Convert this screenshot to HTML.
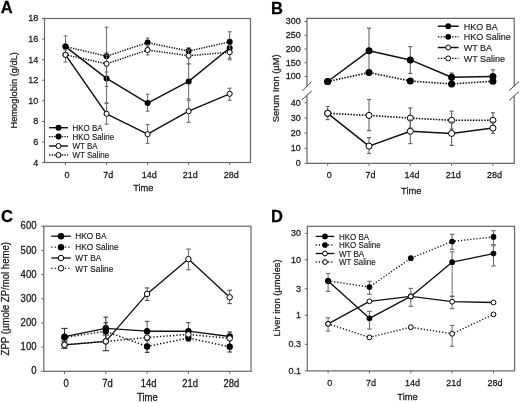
<!DOCTYPE html>
<html><head><meta charset="utf-8"><style>
html,body{margin:0;padding:0;background:#fff;}
body{width:520px;height:403px;overflow:hidden;}
svg{display:block;font-family:"Liberation Sans",sans-serif;filter:grayscale(1);}
</style></head><body>
<svg width="520" height="403" viewBox="0 0 520 403">
<rect width="520" height="403" fill="#fff"/>
<rect x="44.50" y="18.50" width="206.00" height="144.00" fill="none" stroke="#666666" stroke-width="1.2"/>
<line x1="42.00" y1="162.56" x2="44.50" y2="162.56" stroke="#666666" stroke-width="1" stroke-linecap="butt"/>
<text transform="translate(38.30 165.53) scale(0.9346 1)" font-size="9.63" text-anchor="end" font-weight="normal" fill="#1a1a1a" stroke="#1a1a1a" stroke-width="0.27">4</text>
<line x1="42.00" y1="141.98" x2="44.50" y2="141.98" stroke="#666666" stroke-width="1" stroke-linecap="butt"/>
<text transform="translate(38.30 144.95) scale(0.9346 1)" font-size="9.63" text-anchor="end" font-weight="normal" fill="#1a1a1a" stroke="#1a1a1a" stroke-width="0.27">6</text>
<line x1="42.00" y1="121.40" x2="44.50" y2="121.40" stroke="#666666" stroke-width="1" stroke-linecap="butt"/>
<text transform="translate(38.30 124.37) scale(0.9346 1)" font-size="9.63" text-anchor="end" font-weight="normal" fill="#1a1a1a" stroke="#1a1a1a" stroke-width="0.27">8</text>
<line x1="42.00" y1="100.82" x2="44.50" y2="100.82" stroke="#666666" stroke-width="1" stroke-linecap="butt"/>
<text transform="translate(38.30 103.79) scale(0.9346 1)" font-size="9.63" text-anchor="end" font-weight="normal" fill="#1a1a1a" stroke="#1a1a1a" stroke-width="0.27">10</text>
<line x1="42.00" y1="80.24" x2="44.50" y2="80.24" stroke="#666666" stroke-width="1" stroke-linecap="butt"/>
<text transform="translate(38.30 83.21) scale(0.9346 1)" font-size="9.63" text-anchor="end" font-weight="normal" fill="#1a1a1a" stroke="#1a1a1a" stroke-width="0.27">12</text>
<line x1="42.00" y1="59.66" x2="44.50" y2="59.66" stroke="#666666" stroke-width="1" stroke-linecap="butt"/>
<text transform="translate(38.30 62.63) scale(0.9346 1)" font-size="9.63" text-anchor="end" font-weight="normal" fill="#1a1a1a" stroke="#1a1a1a" stroke-width="0.27">14</text>
<line x1="42.00" y1="39.08" x2="44.50" y2="39.08" stroke="#666666" stroke-width="1" stroke-linecap="butt"/>
<text transform="translate(38.30 42.05) scale(0.9346 1)" font-size="9.63" text-anchor="end" font-weight="normal" fill="#1a1a1a" stroke="#1a1a1a" stroke-width="0.27">16</text>
<line x1="42.00" y1="18.50" x2="44.50" y2="18.50" stroke="#666666" stroke-width="1" stroke-linecap="butt"/>
<text transform="translate(38.30 21.47) scale(0.9346 1)" font-size="9.63" text-anchor="end" font-weight="normal" fill="#1a1a1a" stroke="#1a1a1a" stroke-width="0.27">18</text>
<line x1="65.50" y1="162.50" x2="65.50" y2="165.00" stroke="#666666" stroke-width="1" stroke-linecap="butt"/>
<text transform="translate(67.10 177.50) scale(0.9346 1)" font-size="9.63" text-anchor="middle" font-weight="normal" fill="#1a1a1a" stroke="#1a1a1a" stroke-width="0.27">0</text>
<line x1="106.55" y1="162.50" x2="106.55" y2="165.00" stroke="#666666" stroke-width="1" stroke-linecap="butt"/>
<text transform="translate(108.15 177.50) scale(0.9346 1)" font-size="9.63" text-anchor="middle" font-weight="normal" fill="#1a1a1a" stroke="#1a1a1a" stroke-width="0.27">7d</text>
<line x1="147.60" y1="162.50" x2="147.60" y2="165.00" stroke="#666666" stroke-width="1" stroke-linecap="butt"/>
<text transform="translate(149.20 177.50) scale(0.9346 1)" font-size="9.63" text-anchor="middle" font-weight="normal" fill="#1a1a1a" stroke="#1a1a1a" stroke-width="0.27">14d</text>
<line x1="188.65" y1="162.50" x2="188.65" y2="165.00" stroke="#666666" stroke-width="1" stroke-linecap="butt"/>
<text transform="translate(190.25 177.50) scale(0.9346 1)" font-size="9.63" text-anchor="middle" font-weight="normal" fill="#1a1a1a" stroke="#1a1a1a" stroke-width="0.27">21d</text>
<line x1="229.70" y1="162.50" x2="229.70" y2="165.00" stroke="#666666" stroke-width="1" stroke-linecap="butt"/>
<text transform="translate(231.30 177.50) scale(0.9346 1)" font-size="9.63" text-anchor="middle" font-weight="normal" fill="#1a1a1a" stroke="#1a1a1a" stroke-width="0.27">28d</text>
<text transform="translate(143.30 190.60) scale(0.9346 1)" font-size="9.95" text-anchor="middle" font-weight="normal" fill="#1a1a1a" stroke="#1a1a1a" stroke-width="0.27">Time</text>
<text transform="translate(16.80 90.30) rotate(-90) scale(0.9346 1)" font-size="9.95" text-anchor="middle" font-weight="normal" fill="#1a1a1a" stroke="#1a1a1a" stroke-width="0.27">Hemoglobin (g/dL)</text>
<text transform="translate(0.80 13.10)" font-size="16.50" text-anchor="start" font-weight="bold" fill="#000" stroke="#000" stroke-width="0.27">A</text>
<polyline points="65.50,54.80 106.55,63.80 147.60,50.00 188.65,55.70 229.70,52.20" fill="none" stroke="#111" stroke-width="1.5" stroke-dasharray="1.3 1.25" stroke-linejoin="round"/>
<polyline points="65.50,46.60 106.55,56.20 147.60,42.60 188.65,51.10 229.70,41.80" fill="none" stroke="#111" stroke-width="1.5" stroke-dasharray="1.3 1.25" stroke-linejoin="round"/>
<polyline points="65.50,54.80 106.55,113.80 147.60,134.20 188.65,111.20 229.70,93.80" fill="none" stroke="#111" stroke-width="1.45" stroke-linejoin="round"/>
<polyline points="65.50,46.60 106.55,78.40 147.60,103.10 188.65,81.40 229.70,48.00" fill="none" stroke="#111" stroke-width="1.45" stroke-linejoin="round"/>
<line x1="106.55" y1="53.00" x2="106.55" y2="103.50" stroke="#6a6a6a" stroke-width="1.0" stroke-linecap="butt"/>
<line x1="104.65" y1="53.00" x2="108.45" y2="53.00" stroke="#6a6a6a" stroke-width="1.1" stroke-linecap="butt"/>
<line x1="104.65" y1="103.50" x2="108.45" y2="103.50" stroke="#6a6a6a" stroke-width="1.1" stroke-linecap="butt"/>
<line x1="147.60" y1="94.20" x2="147.60" y2="111.20" stroke="#6a6a6a" stroke-width="1.0" stroke-linecap="butt"/>
<line x1="145.70" y1="94.20" x2="149.50" y2="94.20" stroke="#6a6a6a" stroke-width="1.1" stroke-linecap="butt"/>
<line x1="145.70" y1="111.20" x2="149.50" y2="111.20" stroke="#6a6a6a" stroke-width="1.1" stroke-linecap="butt"/>
<line x1="188.65" y1="64.00" x2="188.65" y2="99.00" stroke="#6a6a6a" stroke-width="1.0" stroke-linecap="butt"/>
<line x1="186.75" y1="64.00" x2="190.55" y2="64.00" stroke="#6a6a6a" stroke-width="1.1" stroke-linecap="butt"/>
<line x1="186.75" y1="99.00" x2="190.55" y2="99.00" stroke="#6a6a6a" stroke-width="1.1" stroke-linecap="butt"/>
<line x1="229.70" y1="44.00" x2="229.70" y2="58.30" stroke="#6a6a6a" stroke-width="1.0" stroke-linecap="butt"/>
<line x1="227.80" y1="44.00" x2="231.60" y2="44.00" stroke="#6a6a6a" stroke-width="1.1" stroke-linecap="butt"/>
<line x1="227.80" y1="58.30" x2="231.60" y2="58.30" stroke="#6a6a6a" stroke-width="1.1" stroke-linecap="butt"/>
<circle cx="65.50" cy="46.60" r="3.00" fill="#000"/>
<circle cx="106.55" cy="78.40" r="3.00" fill="#000"/>
<circle cx="147.60" cy="103.10" r="3.00" fill="#000"/>
<circle cx="188.65" cy="81.40" r="3.00" fill="#000"/>
<circle cx="229.70" cy="48.00" r="3.00" fill="#000"/>
<line x1="65.50" y1="35.90" x2="65.50" y2="57.00" stroke="#6a6a6a" stroke-width="1.0" stroke-linecap="butt"/>
<line x1="63.60" y1="35.90" x2="67.40" y2="35.90" stroke="#6a6a6a" stroke-width="1.1" stroke-linecap="butt"/>
<line x1="63.60" y1="57.00" x2="67.40" y2="57.00" stroke="#6a6a6a" stroke-width="1.1" stroke-linecap="butt"/>
<line x1="106.55" y1="27.20" x2="106.55" y2="86.50" stroke="#6a6a6a" stroke-width="1.0" stroke-linecap="butt"/>
<line x1="104.65" y1="27.20" x2="108.45" y2="27.20" stroke="#6a6a6a" stroke-width="1.1" stroke-linecap="butt"/>
<line x1="104.65" y1="86.50" x2="108.45" y2="86.50" stroke="#6a6a6a" stroke-width="1.1" stroke-linecap="butt"/>
<line x1="147.60" y1="38.00" x2="147.60" y2="47.00" stroke="#6a6a6a" stroke-width="1.0" stroke-linecap="butt"/>
<line x1="145.70" y1="38.00" x2="149.50" y2="38.00" stroke="#6a6a6a" stroke-width="1.1" stroke-linecap="butt"/>
<line x1="145.70" y1="47.00" x2="149.50" y2="47.00" stroke="#6a6a6a" stroke-width="1.1" stroke-linecap="butt"/>
<line x1="188.65" y1="47.70" x2="188.65" y2="55.00" stroke="#6a6a6a" stroke-width="1.0" stroke-linecap="butt"/>
<line x1="186.75" y1="47.70" x2="190.55" y2="47.70" stroke="#6a6a6a" stroke-width="1.1" stroke-linecap="butt"/>
<line x1="186.75" y1="55.00" x2="190.55" y2="55.00" stroke="#6a6a6a" stroke-width="1.1" stroke-linecap="butt"/>
<line x1="229.70" y1="31.80" x2="229.70" y2="52.00" stroke="#6a6a6a" stroke-width="1.0" stroke-linecap="butt"/>
<line x1="227.80" y1="31.80" x2="231.60" y2="31.80" stroke="#6a6a6a" stroke-width="1.1" stroke-linecap="butt"/>
<line x1="227.80" y1="52.00" x2="231.60" y2="52.00" stroke="#6a6a6a" stroke-width="1.1" stroke-linecap="butt"/>
<circle cx="65.50" cy="46.60" r="3.00" fill="#000"/>
<circle cx="106.55" cy="56.20" r="3.00" fill="#000"/>
<circle cx="147.60" cy="42.60" r="3.00" fill="#000"/>
<circle cx="188.65" cy="51.10" r="3.00" fill="#000"/>
<circle cx="229.70" cy="41.80" r="3.00" fill="#000"/>
<line x1="65.50" y1="50.00" x2="65.50" y2="62.00" stroke="#6a6a6a" stroke-width="1.0" stroke-linecap="butt"/>
<line x1="63.60" y1="50.00" x2="67.40" y2="50.00" stroke="#6a6a6a" stroke-width="1.1" stroke-linecap="butt"/>
<line x1="63.60" y1="62.00" x2="67.40" y2="62.00" stroke="#6a6a6a" stroke-width="1.1" stroke-linecap="butt"/>
<line x1="106.55" y1="55.00" x2="106.55" y2="72.00" stroke="#6a6a6a" stroke-width="1.0" stroke-linecap="butt"/>
<line x1="104.65" y1="55.00" x2="108.45" y2="55.00" stroke="#6a6a6a" stroke-width="1.1" stroke-linecap="butt"/>
<line x1="104.65" y1="72.00" x2="108.45" y2="72.00" stroke="#6a6a6a" stroke-width="1.1" stroke-linecap="butt"/>
<line x1="147.60" y1="45.00" x2="147.60" y2="54.90" stroke="#6a6a6a" stroke-width="1.0" stroke-linecap="butt"/>
<line x1="145.70" y1="45.00" x2="149.50" y2="45.00" stroke="#6a6a6a" stroke-width="1.1" stroke-linecap="butt"/>
<line x1="145.70" y1="54.90" x2="149.50" y2="54.90" stroke="#6a6a6a" stroke-width="1.1" stroke-linecap="butt"/>
<line x1="188.65" y1="50.00" x2="188.65" y2="63.80" stroke="#6a6a6a" stroke-width="1.0" stroke-linecap="butt"/>
<line x1="186.75" y1="50.00" x2="190.55" y2="50.00" stroke="#6a6a6a" stroke-width="1.1" stroke-linecap="butt"/>
<line x1="186.75" y1="63.80" x2="190.55" y2="63.80" stroke="#6a6a6a" stroke-width="1.1" stroke-linecap="butt"/>
<line x1="229.70" y1="45.00" x2="229.70" y2="59.80" stroke="#6a6a6a" stroke-width="1.0" stroke-linecap="butt"/>
<line x1="227.80" y1="45.00" x2="231.60" y2="45.00" stroke="#6a6a6a" stroke-width="1.1" stroke-linecap="butt"/>
<line x1="227.80" y1="59.80" x2="231.60" y2="59.80" stroke="#6a6a6a" stroke-width="1.1" stroke-linecap="butt"/>
<circle cx="65.50" cy="54.80" r="2.55" fill="#fff" stroke="#000" stroke-width="1.0"/>
<circle cx="106.55" cy="63.80" r="2.55" fill="#fff" stroke="#000" stroke-width="1.0"/>
<circle cx="147.60" cy="50.00" r="2.55" fill="#fff" stroke="#000" stroke-width="1.0"/>
<circle cx="188.65" cy="55.70" r="2.55" fill="#fff" stroke="#000" stroke-width="1.0"/>
<circle cx="229.70" cy="52.20" r="2.55" fill="#fff" stroke="#000" stroke-width="1.0"/>
<line x1="106.55" y1="102.80" x2="106.55" y2="124.20" stroke="#6a6a6a" stroke-width="1.0" stroke-linecap="butt"/>
<line x1="104.65" y1="102.80" x2="108.45" y2="102.80" stroke="#6a6a6a" stroke-width="1.1" stroke-linecap="butt"/>
<line x1="104.65" y1="124.20" x2="108.45" y2="124.20" stroke="#6a6a6a" stroke-width="1.1" stroke-linecap="butt"/>
<line x1="147.60" y1="124.60" x2="147.60" y2="143.40" stroke="#6a6a6a" stroke-width="1.0" stroke-linecap="butt"/>
<line x1="145.70" y1="124.60" x2="149.50" y2="124.60" stroke="#6a6a6a" stroke-width="1.1" stroke-linecap="butt"/>
<line x1="145.70" y1="143.40" x2="149.50" y2="143.40" stroke="#6a6a6a" stroke-width="1.1" stroke-linecap="butt"/>
<line x1="188.65" y1="100.30" x2="188.65" y2="122.30" stroke="#6a6a6a" stroke-width="1.0" stroke-linecap="butt"/>
<line x1="186.75" y1="100.30" x2="190.55" y2="100.30" stroke="#6a6a6a" stroke-width="1.1" stroke-linecap="butt"/>
<line x1="186.75" y1="122.30" x2="190.55" y2="122.30" stroke="#6a6a6a" stroke-width="1.1" stroke-linecap="butt"/>
<line x1="229.70" y1="88.20" x2="229.70" y2="100.30" stroke="#6a6a6a" stroke-width="1.0" stroke-linecap="butt"/>
<line x1="227.80" y1="88.20" x2="231.60" y2="88.20" stroke="#6a6a6a" stroke-width="1.1" stroke-linecap="butt"/>
<line x1="227.80" y1="100.30" x2="231.60" y2="100.30" stroke="#6a6a6a" stroke-width="1.1" stroke-linecap="butt"/>
<circle cx="65.50" cy="54.80" r="2.55" fill="#fff" stroke="#000" stroke-width="1.0"/>
<circle cx="106.55" cy="113.80" r="2.55" fill="#fff" stroke="#000" stroke-width="1.0"/>
<circle cx="147.60" cy="134.20" r="2.55" fill="#fff" stroke="#000" stroke-width="1.0"/>
<circle cx="188.65" cy="111.20" r="2.55" fill="#fff" stroke="#000" stroke-width="1.0"/>
<circle cx="229.70" cy="93.80" r="2.55" fill="#fff" stroke="#000" stroke-width="1.0"/>
<line x1="49.10" y1="127.70" x2="68.00" y2="127.70" stroke="#111" stroke-width="1.45" stroke-linecap="butt"/>
<circle cx="58.50" cy="127.70" r="3.00" fill="#000"/>
<text transform="translate(72.50 130.87) scale(0.909 1)" font-size="8.80" fill="#1a1a1a" stroke="#1a1a1a" stroke-width="0.15">HKO BA</text>
<line x1="49.10" y1="136.60" x2="68.00" y2="136.60" stroke="#111" stroke-width="1.3" stroke-dasharray="1.3 1.25" stroke-linecap="butt"/>
<circle cx="58.50" cy="136.60" r="3.00" fill="#000"/>
<text transform="translate(72.50 139.77) scale(0.909 1)" font-size="8.80" fill="#1a1a1a" stroke="#1a1a1a" stroke-width="0.15">HKO Saline</text>
<line x1="49.10" y1="146.00" x2="68.00" y2="146.00" stroke="#111" stroke-width="1.45" stroke-linecap="butt"/>
<circle cx="58.50" cy="146.00" r="2.55" fill="#fff" stroke="#000" stroke-width="1.0"/>
<text transform="translate(72.50 149.17) scale(0.909 1)" font-size="8.80" fill="#1a1a1a" stroke="#1a1a1a" stroke-width="0.15">WT BA</text>
<line x1="49.10" y1="155.00" x2="68.00" y2="155.00" stroke="#111" stroke-width="1.3" stroke-dasharray="1.3 1.25" stroke-linecap="butt"/>
<circle cx="58.50" cy="155.00" r="2.55" fill="#fff" stroke="#000" stroke-width="1.0"/>
<text transform="translate(72.50 158.17) scale(0.909 1)" font-size="8.80" fill="#1a1a1a" stroke="#1a1a1a" stroke-width="0.15">WT Saline</text>
<line x1="307.00" y1="18.40" x2="514.20" y2="18.40" stroke="#666666" stroke-width="1.2" stroke-linecap="butt"/>
<line x1="307.00" y1="163.30" x2="514.20" y2="163.30" stroke="#666666" stroke-width="1.2" stroke-linecap="butt"/>
<line x1="307.00" y1="17.80" x2="307.00" y2="86.30" stroke="#666666" stroke-width="1.2" stroke-linecap="butt"/>
<line x1="307.00" y1="95.60" x2="307.00" y2="163.90" stroke="#666666" stroke-width="1.2" stroke-linecap="butt"/>
<line x1="514.20" y1="17.80" x2="514.20" y2="86.60" stroke="#666666" stroke-width="1.2" stroke-linecap="butt"/>
<line x1="514.20" y1="96.20" x2="514.20" y2="163.90" stroke="#666666" stroke-width="1.2" stroke-linecap="butt"/>
<line x1="302.40" y1="90.80" x2="311.60" y2="81.70" stroke="#444" stroke-width="1" stroke-linecap="butt"/>
<line x1="302.10" y1="99.80" x2="311.80" y2="90.80" stroke="#444" stroke-width="1" stroke-linecap="butt"/>
<line x1="509.20" y1="90.40" x2="519.10" y2="81.70" stroke="#444" stroke-width="1" stroke-linecap="butt"/>
<line x1="509.20" y1="100.40" x2="518.80" y2="91.70" stroke="#444" stroke-width="1" stroke-linecap="butt"/>
<line x1="304.50" y1="76.50" x2="307.00" y2="76.50" stroke="#666666" stroke-width="1" stroke-linecap="butt"/>
<text transform="translate(300.80 79.47) scale(0.9346 1)" font-size="9.63" text-anchor="end" font-weight="normal" fill="#1a1a1a" stroke="#1a1a1a" stroke-width="0.27">100</text>
<line x1="304.50" y1="62.75" x2="307.00" y2="62.75" stroke="#666666" stroke-width="1" stroke-linecap="butt"/>
<text transform="translate(300.80 65.72) scale(0.9346 1)" font-size="9.63" text-anchor="end" font-weight="normal" fill="#1a1a1a" stroke="#1a1a1a" stroke-width="0.27">150</text>
<line x1="304.50" y1="49.00" x2="307.00" y2="49.00" stroke="#666666" stroke-width="1" stroke-linecap="butt"/>
<text transform="translate(300.80 51.97) scale(0.9346 1)" font-size="9.63" text-anchor="end" font-weight="normal" fill="#1a1a1a" stroke="#1a1a1a" stroke-width="0.27">200</text>
<line x1="304.50" y1="35.25" x2="307.00" y2="35.25" stroke="#666666" stroke-width="1" stroke-linecap="butt"/>
<text transform="translate(300.80 38.22) scale(0.9346 1)" font-size="9.63" text-anchor="end" font-weight="normal" fill="#1a1a1a" stroke="#1a1a1a" stroke-width="0.27">250</text>
<line x1="304.50" y1="21.50" x2="307.00" y2="21.50" stroke="#666666" stroke-width="1" stroke-linecap="butt"/>
<text transform="translate(300.80 24.47) scale(0.9346 1)" font-size="9.63" text-anchor="end" font-weight="normal" fill="#1a1a1a" stroke="#1a1a1a" stroke-width="0.27">300</text>
<line x1="304.50" y1="163.30" x2="307.00" y2="163.30" stroke="#666666" stroke-width="1" stroke-linecap="butt"/>
<text transform="translate(300.80 166.27) scale(0.9346 1)" font-size="9.63" text-anchor="end" font-weight="normal" fill="#1a1a1a" stroke="#1a1a1a" stroke-width="0.27">0</text>
<line x1="304.50" y1="148.18" x2="307.00" y2="148.18" stroke="#666666" stroke-width="1" stroke-linecap="butt"/>
<text transform="translate(300.80 151.15) scale(0.9346 1)" font-size="9.63" text-anchor="end" font-weight="normal" fill="#1a1a1a" stroke="#1a1a1a" stroke-width="0.27">10</text>
<line x1="304.50" y1="133.06" x2="307.00" y2="133.06" stroke="#666666" stroke-width="1" stroke-linecap="butt"/>
<text transform="translate(300.80 136.03) scale(0.9346 1)" font-size="9.63" text-anchor="end" font-weight="normal" fill="#1a1a1a" stroke="#1a1a1a" stroke-width="0.27">20</text>
<line x1="304.50" y1="117.94" x2="307.00" y2="117.94" stroke="#666666" stroke-width="1" stroke-linecap="butt"/>
<text transform="translate(300.80 120.91) scale(0.9346 1)" font-size="9.63" text-anchor="end" font-weight="normal" fill="#1a1a1a" stroke="#1a1a1a" stroke-width="0.27">30</text>
<line x1="304.50" y1="102.82" x2="307.00" y2="102.82" stroke="#666666" stroke-width="1" stroke-linecap="butt"/>
<text transform="translate(300.80 105.79) scale(0.9346 1)" font-size="9.63" text-anchor="end" font-weight="normal" fill="#1a1a1a" stroke="#1a1a1a" stroke-width="0.27">40</text>
<line x1="327.70" y1="163.30" x2="327.70" y2="165.80" stroke="#666666" stroke-width="1" stroke-linecap="butt"/>
<text transform="translate(329.30 178.30) scale(0.9346 1)" font-size="9.63" text-anchor="middle" font-weight="normal" fill="#1a1a1a" stroke="#1a1a1a" stroke-width="0.27">0</text>
<line x1="369.00" y1="163.30" x2="369.00" y2="165.80" stroke="#666666" stroke-width="1" stroke-linecap="butt"/>
<text transform="translate(370.60 178.30) scale(0.9346 1)" font-size="9.63" text-anchor="middle" font-weight="normal" fill="#1a1a1a" stroke="#1a1a1a" stroke-width="0.27">7d</text>
<line x1="410.30" y1="163.30" x2="410.30" y2="165.80" stroke="#666666" stroke-width="1" stroke-linecap="butt"/>
<text transform="translate(411.90 178.30) scale(0.9346 1)" font-size="9.63" text-anchor="middle" font-weight="normal" fill="#1a1a1a" stroke="#1a1a1a" stroke-width="0.27">14d</text>
<line x1="451.60" y1="163.30" x2="451.60" y2="165.80" stroke="#666666" stroke-width="1" stroke-linecap="butt"/>
<text transform="translate(453.20 178.30) scale(0.9346 1)" font-size="9.63" text-anchor="middle" font-weight="normal" fill="#1a1a1a" stroke="#1a1a1a" stroke-width="0.27">21d</text>
<line x1="492.90" y1="163.30" x2="492.90" y2="165.80" stroke="#666666" stroke-width="1" stroke-linecap="butt"/>
<text transform="translate(494.50 178.30) scale(0.9346 1)" font-size="9.63" text-anchor="middle" font-weight="normal" fill="#1a1a1a" stroke="#1a1a1a" stroke-width="0.27">28d</text>
<text transform="translate(411.20 194.30) scale(0.9346 1)" font-size="9.95" text-anchor="middle" font-weight="normal" fill="#1a1a1a" stroke="#1a1a1a" stroke-width="0.27">Time</text>
<text transform="translate(279.00 88.40) rotate(-90) scale(0.9346 1)" font-size="9.95" text-anchor="middle" font-weight="normal" fill="#1a1a1a" stroke="#1a1a1a" stroke-width="0.27">Serum Iron (µM)</text>
<text transform="translate(271.00 13.50)" font-size="16.50" text-anchor="start" font-weight="bold" fill="#000" stroke="#000" stroke-width="0.27">B</text>
<polyline points="327.70,113.30 369.00,115.40 410.30,118.10 451.60,120.30 492.90,120.30" fill="none" stroke="#111" stroke-width="1.6" stroke-dasharray="1.5 1.35" stroke-linejoin="round"/>
<polyline points="327.70,81.50 369.00,72.60 410.30,81.00 451.60,84.00 492.90,81.20" fill="none" stroke="#111" stroke-width="1.6" stroke-dasharray="1.5 1.35" stroke-linejoin="round"/>
<polyline points="327.70,113.30 369.00,146.10 410.30,131.30 451.60,133.40 492.90,128.10" fill="none" stroke="#111" stroke-width="1.5" stroke-linejoin="round"/>
<polyline points="327.70,81.50 369.00,50.80 410.30,59.90 451.60,77.20 492.90,76.50" fill="none" stroke="#111" stroke-width="1.5" stroke-linejoin="round"/>
<line x1="369.00" y1="28.20" x2="369.00" y2="73.00" stroke="#666" stroke-width="1.1" stroke-linecap="butt"/>
<line x1="367.00" y1="28.20" x2="371.00" y2="28.20" stroke="#666" stroke-width="1.2000000000000002" stroke-linecap="butt"/>
<line x1="367.00" y1="73.00" x2="371.00" y2="73.00" stroke="#666" stroke-width="1.2000000000000002" stroke-linecap="butt"/>
<line x1="410.30" y1="46.60" x2="410.30" y2="73.40" stroke="#666" stroke-width="1.1" stroke-linecap="butt"/>
<line x1="408.30" y1="46.60" x2="412.30" y2="46.60" stroke="#666" stroke-width="1.2000000000000002" stroke-linecap="butt"/>
<line x1="408.30" y1="73.40" x2="412.30" y2="73.40" stroke="#666" stroke-width="1.2000000000000002" stroke-linecap="butt"/>
<line x1="451.60" y1="73.00" x2="451.60" y2="81.00" stroke="#666" stroke-width="1.1" stroke-linecap="butt"/>
<line x1="449.60" y1="73.00" x2="453.60" y2="73.00" stroke="#666" stroke-width="1.2000000000000002" stroke-linecap="butt"/>
<line x1="449.60" y1="81.00" x2="453.60" y2="81.00" stroke="#666" stroke-width="1.2000000000000002" stroke-linecap="butt"/>
<line x1="492.90" y1="69.80" x2="492.90" y2="82.00" stroke="#666" stroke-width="1.1" stroke-linecap="butt"/>
<line x1="490.90" y1="69.80" x2="494.90" y2="69.80" stroke="#666" stroke-width="1.2000000000000002" stroke-linecap="butt"/>
<line x1="490.90" y1="82.00" x2="494.90" y2="82.00" stroke="#666" stroke-width="1.2000000000000002" stroke-linecap="butt"/>
<circle cx="327.70" cy="81.50" r="3.50" fill="#000"/>
<circle cx="369.00" cy="50.80" r="3.50" fill="#000"/>
<circle cx="410.30" cy="59.90" r="3.50" fill="#000"/>
<circle cx="451.60" cy="77.20" r="3.50" fill="#000"/>
<circle cx="492.90" cy="76.50" r="3.50" fill="#000"/>
<circle cx="327.70" cy="81.50" r="3.50" fill="#000"/>
<circle cx="369.00" cy="72.60" r="3.50" fill="#000"/>
<circle cx="410.30" cy="81.00" r="3.50" fill="#000"/>
<circle cx="451.60" cy="84.00" r="3.50" fill="#000"/>
<circle cx="492.90" cy="81.20" r="3.50" fill="#000"/>
<line x1="327.70" y1="106.50" x2="327.70" y2="119.60" stroke="#666" stroke-width="1.1" stroke-linecap="butt"/>
<line x1="325.70" y1="106.50" x2="329.70" y2="106.50" stroke="#666" stroke-width="1.2000000000000002" stroke-linecap="butt"/>
<line x1="325.70" y1="119.60" x2="329.70" y2="119.60" stroke="#666" stroke-width="1.2000000000000002" stroke-linecap="butt"/>
<line x1="369.00" y1="99.50" x2="369.00" y2="130.60" stroke="#666" stroke-width="1.1" stroke-linecap="butt"/>
<line x1="367.00" y1="99.50" x2="371.00" y2="99.50" stroke="#666" stroke-width="1.2000000000000002" stroke-linecap="butt"/>
<line x1="367.00" y1="130.60" x2="371.00" y2="130.60" stroke="#666" stroke-width="1.2000000000000002" stroke-linecap="butt"/>
<line x1="410.30" y1="108.00" x2="410.30" y2="128.00" stroke="#666" stroke-width="1.1" stroke-linecap="butt"/>
<line x1="408.30" y1="108.00" x2="412.30" y2="108.00" stroke="#666" stroke-width="1.2000000000000002" stroke-linecap="butt"/>
<line x1="408.30" y1="128.00" x2="412.30" y2="128.00" stroke="#666" stroke-width="1.2000000000000002" stroke-linecap="butt"/>
<line x1="451.60" y1="111.20" x2="451.60" y2="129.00" stroke="#666" stroke-width="1.1" stroke-linecap="butt"/>
<line x1="449.60" y1="111.20" x2="453.60" y2="111.20" stroke="#666" stroke-width="1.2000000000000002" stroke-linecap="butt"/>
<line x1="449.60" y1="129.00" x2="453.60" y2="129.00" stroke="#666" stroke-width="1.2000000000000002" stroke-linecap="butt"/>
<line x1="492.90" y1="112.80" x2="492.90" y2="126.00" stroke="#666" stroke-width="1.1" stroke-linecap="butt"/>
<line x1="490.90" y1="112.80" x2="494.90" y2="112.80" stroke="#666" stroke-width="1.2000000000000002" stroke-linecap="butt"/>
<line x1="490.90" y1="126.00" x2="494.90" y2="126.00" stroke="#666" stroke-width="1.2000000000000002" stroke-linecap="butt"/>
<circle cx="327.70" cy="113.30" r="3.05" fill="#fff" stroke="#000" stroke-width="1.0"/>
<circle cx="369.00" cy="115.40" r="3.05" fill="#fff" stroke="#000" stroke-width="1.0"/>
<circle cx="410.30" cy="118.10" r="3.05" fill="#fff" stroke="#000" stroke-width="1.0"/>
<circle cx="451.60" cy="120.30" r="3.05" fill="#fff" stroke="#000" stroke-width="1.0"/>
<circle cx="492.90" cy="120.30" r="3.05" fill="#fff" stroke="#000" stroke-width="1.0"/>
<line x1="369.00" y1="137.60" x2="369.00" y2="153.50" stroke="#666" stroke-width="1.1" stroke-linecap="butt"/>
<line x1="367.00" y1="137.60" x2="371.00" y2="137.60" stroke="#666" stroke-width="1.2000000000000002" stroke-linecap="butt"/>
<line x1="367.00" y1="153.50" x2="371.00" y2="153.50" stroke="#666" stroke-width="1.2000000000000002" stroke-linecap="butt"/>
<line x1="410.30" y1="120.00" x2="410.30" y2="143.60" stroke="#666" stroke-width="1.1" stroke-linecap="butt"/>
<line x1="408.30" y1="120.00" x2="412.30" y2="120.00" stroke="#666" stroke-width="1.2000000000000002" stroke-linecap="butt"/>
<line x1="408.30" y1="143.60" x2="412.30" y2="143.60" stroke="#666" stroke-width="1.2000000000000002" stroke-linecap="butt"/>
<line x1="451.60" y1="122.00" x2="451.60" y2="145.40" stroke="#666" stroke-width="1.1" stroke-linecap="butt"/>
<line x1="449.60" y1="122.00" x2="453.60" y2="122.00" stroke="#666" stroke-width="1.2000000000000002" stroke-linecap="butt"/>
<line x1="449.60" y1="145.40" x2="453.60" y2="145.40" stroke="#666" stroke-width="1.2000000000000002" stroke-linecap="butt"/>
<line x1="492.90" y1="122.00" x2="492.90" y2="133.40" stroke="#666" stroke-width="1.1" stroke-linecap="butt"/>
<line x1="490.90" y1="122.00" x2="494.90" y2="122.00" stroke="#666" stroke-width="1.2000000000000002" stroke-linecap="butt"/>
<line x1="490.90" y1="133.40" x2="494.90" y2="133.40" stroke="#666" stroke-width="1.2000000000000002" stroke-linecap="butt"/>
<circle cx="327.70" cy="113.30" r="3.05" fill="#fff" stroke="#000" stroke-width="1.0"/>
<circle cx="369.00" cy="146.10" r="3.05" fill="#fff" stroke="#000" stroke-width="1.0"/>
<circle cx="410.30" cy="131.30" r="3.05" fill="#fff" stroke="#000" stroke-width="1.0"/>
<circle cx="451.60" cy="133.40" r="3.05" fill="#fff" stroke="#000" stroke-width="1.0"/>
<circle cx="492.90" cy="128.10" r="3.05" fill="#fff" stroke="#000" stroke-width="1.0"/>
<line x1="437.80" y1="26.20" x2="458.60" y2="26.20" stroke="#111" stroke-width="1.5" stroke-linecap="butt"/>
<circle cx="448.20" cy="26.20" r="2.90" fill="#000"/>
<text transform="translate(463.70 29.76) scale(0.909 1)" font-size="9.90" fill="#1a1a1a" stroke="#1a1a1a" stroke-width="0.15">HKO BA</text>
<line x1="437.80" y1="36.80" x2="458.60" y2="36.80" stroke="#111" stroke-width="1.3" stroke-dasharray="1.5 1.35" stroke-linecap="butt"/>
<circle cx="448.20" cy="36.80" r="2.90" fill="#000"/>
<text transform="translate(463.70 40.36) scale(0.909 1)" font-size="9.90" fill="#1a1a1a" stroke="#1a1a1a" stroke-width="0.15">HKO Saline</text>
<line x1="437.80" y1="47.50" x2="458.60" y2="47.50" stroke="#111" stroke-width="1.5" stroke-linecap="butt"/>
<circle cx="448.20" cy="47.50" r="2.45" fill="#fff" stroke="#000" stroke-width="1.0"/>
<text transform="translate(463.70 51.06) scale(0.909 1)" font-size="9.90" fill="#1a1a1a" stroke="#1a1a1a" stroke-width="0.15">WT BA</text>
<line x1="437.80" y1="58.40" x2="458.60" y2="58.40" stroke="#111" stroke-width="1.3" stroke-dasharray="1.5 1.35" stroke-linecap="butt"/>
<circle cx="448.20" cy="58.40" r="2.45" fill="#fff" stroke="#000" stroke-width="1.0"/>
<text transform="translate(463.70 61.96) scale(0.909 1)" font-size="9.90" fill="#1a1a1a" stroke="#1a1a1a" stroke-width="0.15">WT Saline</text>
<rect x="43.80" y="226.20" width="207.20" height="145.10" fill="none" stroke="#666666" stroke-width="1.2"/>
<line x1="41.30" y1="371.30" x2="43.80" y2="371.30" stroke="#666666" stroke-width="1" stroke-linecap="butt"/>
<text transform="translate(36.50 374.45) scale(0.9346 1)" font-size="10.22" text-anchor="end" font-weight="normal" fill="#1a1a1a" stroke="#1a1a1a" stroke-width="0.27">0</text>
<line x1="41.30" y1="347.12" x2="43.80" y2="347.12" stroke="#666666" stroke-width="1" stroke-linecap="butt"/>
<text transform="translate(36.50 350.28) scale(0.9346 1)" font-size="10.22" text-anchor="end" font-weight="normal" fill="#1a1a1a" stroke="#1a1a1a" stroke-width="0.27">100</text>
<line x1="41.30" y1="322.95" x2="43.80" y2="322.95" stroke="#666666" stroke-width="1" stroke-linecap="butt"/>
<text transform="translate(36.50 326.10) scale(0.9346 1)" font-size="10.22" text-anchor="end" font-weight="normal" fill="#1a1a1a" stroke="#1a1a1a" stroke-width="0.27">200</text>
<line x1="41.30" y1="298.78" x2="43.80" y2="298.78" stroke="#666666" stroke-width="1" stroke-linecap="butt"/>
<text transform="translate(36.50 301.93) scale(0.9346 1)" font-size="10.22" text-anchor="end" font-weight="normal" fill="#1a1a1a" stroke="#1a1a1a" stroke-width="0.27">300</text>
<line x1="41.30" y1="274.60" x2="43.80" y2="274.60" stroke="#666666" stroke-width="1" stroke-linecap="butt"/>
<text transform="translate(36.50 277.75) scale(0.9346 1)" font-size="10.22" text-anchor="end" font-weight="normal" fill="#1a1a1a" stroke="#1a1a1a" stroke-width="0.27">400</text>
<line x1="41.30" y1="250.43" x2="43.80" y2="250.43" stroke="#666666" stroke-width="1" stroke-linecap="butt"/>
<text transform="translate(36.50 253.58) scale(0.9346 1)" font-size="10.22" text-anchor="end" font-weight="normal" fill="#1a1a1a" stroke="#1a1a1a" stroke-width="0.27">500</text>
<line x1="41.30" y1="226.25" x2="43.80" y2="226.25" stroke="#666666" stroke-width="1" stroke-linecap="butt"/>
<text transform="translate(36.50 229.40) scale(0.9346 1)" font-size="10.22" text-anchor="end" font-weight="normal" fill="#1a1a1a" stroke="#1a1a1a" stroke-width="0.27">600</text>
<line x1="64.50" y1="371.30" x2="64.50" y2="373.80" stroke="#666666" stroke-width="1" stroke-linecap="butt"/>
<text transform="translate(66.10 387.10) scale(0.9346 1)" font-size="10.11" text-anchor="middle" font-weight="normal" fill="#1a1a1a" stroke="#1a1a1a" stroke-width="0.27">0</text>
<line x1="105.80" y1="371.30" x2="105.80" y2="373.80" stroke="#666666" stroke-width="1" stroke-linecap="butt"/>
<text transform="translate(107.40 387.10) scale(0.9346 1)" font-size="10.11" text-anchor="middle" font-weight="normal" fill="#1a1a1a" stroke="#1a1a1a" stroke-width="0.27">7d</text>
<line x1="147.10" y1="371.30" x2="147.10" y2="373.80" stroke="#666666" stroke-width="1" stroke-linecap="butt"/>
<text transform="translate(148.70 387.10) scale(0.9346 1)" font-size="10.11" text-anchor="middle" font-weight="normal" fill="#1a1a1a" stroke="#1a1a1a" stroke-width="0.27">14d</text>
<line x1="188.40" y1="371.30" x2="188.40" y2="373.80" stroke="#666666" stroke-width="1" stroke-linecap="butt"/>
<text transform="translate(190.00 387.10) scale(0.9346 1)" font-size="10.11" text-anchor="middle" font-weight="normal" fill="#1a1a1a" stroke="#1a1a1a" stroke-width="0.27">21d</text>
<line x1="229.70" y1="371.30" x2="229.70" y2="373.80" stroke="#666666" stroke-width="1" stroke-linecap="butt"/>
<text transform="translate(231.30 387.10) scale(0.9346 1)" font-size="10.11" text-anchor="middle" font-weight="normal" fill="#1a1a1a" stroke="#1a1a1a" stroke-width="0.27">28d</text>
<text transform="translate(147.30 401.00) scale(0.9346 1)" font-size="10.17" text-anchor="middle" font-weight="normal" fill="#1a1a1a" stroke="#1a1a1a" stroke-width="0.27">Time</text>
<text transform="translate(9.10 298.70) rotate(-90) scale(0.9346 1)" font-size="10.27" text-anchor="middle" font-weight="normal" fill="#1a1a1a" stroke="#1a1a1a" stroke-width="0.27">ZPP (µmole ZP/mol heme)</text>
<text transform="translate(1.00 222.00)" font-size="16.50" text-anchor="start" font-weight="bold" fill="#000" stroke="#000" stroke-width="0.27">C</text>
<polyline points="64.50,344.80 105.80,341.40 147.10,337.50 188.40,334.40 229.70,338.40" fill="none" stroke="#111" stroke-width="1.5" stroke-dasharray="1.3 2.0" stroke-linejoin="round"/>
<polyline points="64.50,337.50 105.80,331.30 147.10,346.50 188.40,338.00 229.70,346.80" fill="none" stroke="#111" stroke-width="1.5" stroke-dasharray="1.3 2.0" stroke-linejoin="round"/>
<polyline points="64.50,344.80 105.80,341.40 147.10,293.90 188.40,259.10 229.70,297.30" fill="none" stroke="#111" stroke-width="1.35" stroke-linejoin="round"/>
<polyline points="64.50,336.70 105.80,328.30 147.10,331.20 188.40,331.10 229.70,336.50" fill="none" stroke="#111" stroke-width="1.35" stroke-linejoin="round"/>
<line x1="64.50" y1="328.40" x2="64.50" y2="345.00" stroke="#333" stroke-width="1.0" stroke-linecap="butt"/>
<line x1="61.30" y1="328.40" x2="67.70" y2="328.40" stroke="#333" stroke-width="1.1" stroke-linecap="butt"/>
<line x1="61.30" y1="345.00" x2="67.70" y2="345.00" stroke="#333" stroke-width="1.1" stroke-linecap="butt"/>
<line x1="105.80" y1="317.10" x2="105.80" y2="340.00" stroke="#333" stroke-width="1.0" stroke-linecap="butt"/>
<line x1="103.50" y1="317.10" x2="108.10" y2="317.10" stroke="#333" stroke-width="1.1" stroke-linecap="butt"/>
<line x1="103.50" y1="340.00" x2="108.10" y2="340.00" stroke="#333" stroke-width="1.1" stroke-linecap="butt"/>
<line x1="147.10" y1="321.30" x2="147.10" y2="340.00" stroke="#555" stroke-width="1.0" stroke-linecap="butt"/>
<line x1="144.80" y1="321.30" x2="149.40" y2="321.30" stroke="#555" stroke-width="1.1" stroke-linecap="butt"/>
<line x1="144.80" y1="340.00" x2="149.40" y2="340.00" stroke="#555" stroke-width="1.1" stroke-linecap="butt"/>
<line x1="188.40" y1="322.70" x2="188.40" y2="335.00" stroke="#555" stroke-width="1.0" stroke-linecap="butt"/>
<line x1="186.10" y1="322.70" x2="190.70" y2="322.70" stroke="#555" stroke-width="1.1" stroke-linecap="butt"/>
<line x1="186.10" y1="335.00" x2="190.70" y2="335.00" stroke="#555" stroke-width="1.1" stroke-linecap="butt"/>
<line x1="229.70" y1="332.00" x2="229.70" y2="345.00" stroke="#333" stroke-width="1.0" stroke-linecap="butt"/>
<line x1="227.40" y1="332.00" x2="232.00" y2="332.00" stroke="#333" stroke-width="1.1" stroke-linecap="butt"/>
<line x1="227.40" y1="345.00" x2="232.00" y2="345.00" stroke="#333" stroke-width="1.1" stroke-linecap="butt"/>
<circle cx="64.50" cy="336.70" r="3.20" fill="#000"/>
<circle cx="105.80" cy="328.30" r="3.20" fill="#000"/>
<circle cx="147.10" cy="331.20" r="3.20" fill="#000"/>
<circle cx="188.40" cy="331.10" r="3.20" fill="#000"/>
<circle cx="229.70" cy="336.50" r="3.20" fill="#000"/>
<line x1="105.80" y1="322.70" x2="105.80" y2="340.00" stroke="#333" stroke-width="1.0" stroke-linecap="butt"/>
<line x1="103.50" y1="322.70" x2="108.10" y2="322.70" stroke="#333" stroke-width="1.1" stroke-linecap="butt"/>
<line x1="103.50" y1="340.00" x2="108.10" y2="340.00" stroke="#333" stroke-width="1.1" stroke-linecap="butt"/>
<line x1="147.10" y1="340.00" x2="147.10" y2="352.40" stroke="#333" stroke-width="1.0" stroke-linecap="butt"/>
<line x1="144.80" y1="340.00" x2="149.40" y2="340.00" stroke="#333" stroke-width="1.1" stroke-linecap="butt"/>
<line x1="144.80" y1="352.40" x2="149.40" y2="352.40" stroke="#333" stroke-width="1.1" stroke-linecap="butt"/>
<line x1="188.40" y1="334.00" x2="188.40" y2="341.00" stroke="#333" stroke-width="1.0" stroke-linecap="butt"/>
<line x1="186.10" y1="334.00" x2="190.70" y2="334.00" stroke="#333" stroke-width="1.1" stroke-linecap="butt"/>
<line x1="186.10" y1="341.00" x2="190.70" y2="341.00" stroke="#333" stroke-width="1.1" stroke-linecap="butt"/>
<line x1="229.70" y1="340.00" x2="229.70" y2="352.00" stroke="#333" stroke-width="1.0" stroke-linecap="butt"/>
<line x1="227.40" y1="340.00" x2="232.00" y2="340.00" stroke="#333" stroke-width="1.1" stroke-linecap="butt"/>
<line x1="227.40" y1="352.00" x2="232.00" y2="352.00" stroke="#333" stroke-width="1.1" stroke-linecap="butt"/>
<circle cx="64.50" cy="337.50" r="3.20" fill="#000"/>
<circle cx="105.80" cy="331.30" r="3.20" fill="#000"/>
<circle cx="147.10" cy="346.50" r="3.20" fill="#000"/>
<circle cx="188.40" cy="338.00" r="3.20" fill="#000"/>
<circle cx="229.70" cy="346.80" r="3.20" fill="#000"/>
<circle cx="64.50" cy="344.80" r="2.75" fill="#fff" stroke="#000" stroke-width="1.0"/>
<circle cx="105.80" cy="341.40" r="2.75" fill="#fff" stroke="#000" stroke-width="1.0"/>
<circle cx="147.10" cy="337.50" r="2.75" fill="#fff" stroke="#000" stroke-width="1.0"/>
<circle cx="188.40" cy="334.40" r="2.75" fill="#fff" stroke="#000" stroke-width="1.0"/>
<circle cx="229.70" cy="338.40" r="2.75" fill="#fff" stroke="#000" stroke-width="1.0"/>
<line x1="64.50" y1="341.10" x2="64.50" y2="348.30" stroke="#333" stroke-width="1.0" stroke-linecap="butt"/>
<line x1="61.30" y1="341.10" x2="67.70" y2="341.10" stroke="#333" stroke-width="1.1" stroke-linecap="butt"/>
<line x1="61.30" y1="348.30" x2="67.70" y2="348.30" stroke="#333" stroke-width="1.1" stroke-linecap="butt"/>
<line x1="105.80" y1="335.00" x2="105.80" y2="350.70" stroke="#333" stroke-width="1.0" stroke-linecap="butt"/>
<line x1="102.60" y1="335.00" x2="109.00" y2="335.00" stroke="#333" stroke-width="1.1" stroke-linecap="butt"/>
<line x1="102.60" y1="350.70" x2="109.00" y2="350.70" stroke="#333" stroke-width="1.1" stroke-linecap="butt"/>
<line x1="147.10" y1="287.90" x2="147.10" y2="300.40" stroke="#555" stroke-width="1.0" stroke-linecap="butt"/>
<line x1="144.80" y1="287.90" x2="149.40" y2="287.90" stroke="#555" stroke-width="1.1" stroke-linecap="butt"/>
<line x1="144.80" y1="300.40" x2="149.40" y2="300.40" stroke="#555" stroke-width="1.1" stroke-linecap="butt"/>
<line x1="188.40" y1="249.10" x2="188.40" y2="269.80" stroke="#666" stroke-width="1.0" stroke-linecap="butt"/>
<line x1="186.10" y1="249.10" x2="190.70" y2="249.10" stroke="#666" stroke-width="1.1" stroke-linecap="butt"/>
<line x1="186.10" y1="269.80" x2="190.70" y2="269.80" stroke="#666" stroke-width="1.1" stroke-linecap="butt"/>
<line x1="229.70" y1="290.20" x2="229.70" y2="303.60" stroke="#555" stroke-width="1.0" stroke-linecap="butt"/>
<line x1="227.40" y1="290.20" x2="232.00" y2="290.20" stroke="#555" stroke-width="1.1" stroke-linecap="butt"/>
<line x1="227.40" y1="303.60" x2="232.00" y2="303.60" stroke="#555" stroke-width="1.1" stroke-linecap="butt"/>
<circle cx="64.50" cy="344.80" r="2.75" fill="#fff" stroke="#000" stroke-width="1.0"/>
<circle cx="105.80" cy="341.40" r="2.75" fill="#fff" stroke="#000" stroke-width="1.0"/>
<circle cx="147.10" cy="293.90" r="2.75" fill="#fff" stroke="#000" stroke-width="1.0"/>
<circle cx="188.40" cy="259.10" r="2.75" fill="#fff" stroke="#000" stroke-width="1.0"/>
<circle cx="229.70" cy="297.30" r="2.75" fill="#fff" stroke="#000" stroke-width="1.0"/>
<line x1="51.30" y1="236.20" x2="70.80" y2="236.20" stroke="#111" stroke-width="1.35" stroke-linecap="butt"/>
<circle cx="61.00" cy="236.20" r="3.20" fill="#000"/>
<text transform="translate(75.20 239.49) scale(0.909 1)" font-size="9.13" fill="#1a1a1a" stroke="#1a1a1a" stroke-width="0.15">HKO BA</text>
<line x1="51.30" y1="247.20" x2="70.80" y2="247.20" stroke="#111" stroke-width="1.3" stroke-dasharray="1.2 2.2" stroke-linecap="butt"/>
<circle cx="61.00" cy="247.20" r="3.20" fill="#000"/>
<text transform="translate(75.20 250.49) scale(0.909 1)" font-size="9.13" fill="#1a1a1a" stroke="#1a1a1a" stroke-width="0.15">HKO Saline</text>
<line x1="51.30" y1="258.00" x2="70.80" y2="258.00" stroke="#111" stroke-width="1.35" stroke-linecap="butt"/>
<circle cx="61.00" cy="258.00" r="2.75" fill="#fff" stroke="#000" stroke-width="1.0"/>
<text transform="translate(75.20 261.29) scale(0.909 1)" font-size="9.13" fill="#1a1a1a" stroke="#1a1a1a" stroke-width="0.15">WT BA</text>
<line x1="51.30" y1="268.30" x2="70.80" y2="268.30" stroke="#111" stroke-width="1.3" stroke-dasharray="1.2 2.2" stroke-linecap="butt"/>
<circle cx="61.00" cy="268.30" r="2.75" fill="#fff" stroke="#000" stroke-width="1.0"/>
<text transform="translate(75.20 271.59) scale(0.909 1)" font-size="9.13" fill="#1a1a1a" stroke="#1a1a1a" stroke-width="0.15">WT Saline</text>
<rect x="307.30" y="226.30" width="207.30" height="144.60" fill="none" stroke="#666666" stroke-width="1.2"/>
<line x1="304.80" y1="370.80" x2="307.30" y2="370.80" stroke="#666666" stroke-width="1" stroke-linecap="butt"/>
<text transform="translate(301.10 373.77) scale(0.9346 1)" font-size="9.63" text-anchor="end" font-weight="normal" fill="#1a1a1a" stroke="#1a1a1a" stroke-width="0.27">0.1</text>
<line x1="304.80" y1="344.32" x2="307.30" y2="344.32" stroke="#666666" stroke-width="1" stroke-linecap="butt"/>
<text transform="translate(301.10 347.29) scale(0.9346 1)" font-size="9.63" text-anchor="end" font-weight="normal" fill="#1a1a1a" stroke="#1a1a1a" stroke-width="0.27">0.3</text>
<line x1="304.80" y1="315.30" x2="307.30" y2="315.30" stroke="#666666" stroke-width="1" stroke-linecap="butt"/>
<text transform="translate(301.10 318.27) scale(0.9346 1)" font-size="9.63" text-anchor="end" font-weight="normal" fill="#1a1a1a" stroke="#1a1a1a" stroke-width="0.27">1</text>
<line x1="304.80" y1="288.82" x2="307.30" y2="288.82" stroke="#666666" stroke-width="1" stroke-linecap="butt"/>
<text transform="translate(301.10 291.79) scale(0.9346 1)" font-size="9.63" text-anchor="end" font-weight="normal" fill="#1a1a1a" stroke="#1a1a1a" stroke-width="0.27">3</text>
<line x1="304.80" y1="259.80" x2="307.30" y2="259.80" stroke="#666666" stroke-width="1" stroke-linecap="butt"/>
<text transform="translate(301.10 262.77) scale(0.9346 1)" font-size="9.63" text-anchor="end" font-weight="normal" fill="#1a1a1a" stroke="#1a1a1a" stroke-width="0.27">10</text>
<line x1="304.80" y1="233.32" x2="307.30" y2="233.32" stroke="#666666" stroke-width="1" stroke-linecap="butt"/>
<text transform="translate(301.10 236.29) scale(0.9346 1)" font-size="9.63" text-anchor="end" font-weight="normal" fill="#1a1a1a" stroke="#1a1a1a" stroke-width="0.27">30</text>
<line x1="328.10" y1="370.90" x2="328.10" y2="373.40" stroke="#666666" stroke-width="1" stroke-linecap="butt"/>
<text transform="translate(329.70 386.30) scale(0.9346 1)" font-size="9.63" text-anchor="middle" font-weight="normal" fill="#1a1a1a" stroke="#1a1a1a" stroke-width="0.27">0</text>
<line x1="369.45" y1="370.90" x2="369.45" y2="373.40" stroke="#666666" stroke-width="1" stroke-linecap="butt"/>
<text transform="translate(371.05 386.30) scale(0.9346 1)" font-size="9.63" text-anchor="middle" font-weight="normal" fill="#1a1a1a" stroke="#1a1a1a" stroke-width="0.27">7d</text>
<line x1="410.80" y1="370.90" x2="410.80" y2="373.40" stroke="#666666" stroke-width="1" stroke-linecap="butt"/>
<text transform="translate(412.40 386.30) scale(0.9346 1)" font-size="9.63" text-anchor="middle" font-weight="normal" fill="#1a1a1a" stroke="#1a1a1a" stroke-width="0.27">14d</text>
<line x1="452.15" y1="370.90" x2="452.15" y2="373.40" stroke="#666666" stroke-width="1" stroke-linecap="butt"/>
<text transform="translate(453.75 386.30) scale(0.9346 1)" font-size="9.63" text-anchor="middle" font-weight="normal" fill="#1a1a1a" stroke="#1a1a1a" stroke-width="0.27">21d</text>
<line x1="493.50" y1="370.90" x2="493.50" y2="373.40" stroke="#666666" stroke-width="1" stroke-linecap="butt"/>
<text transform="translate(495.10 386.30) scale(0.9346 1)" font-size="9.63" text-anchor="middle" font-weight="normal" fill="#1a1a1a" stroke="#1a1a1a" stroke-width="0.27">28d</text>
<text transform="translate(407.50 400.00) scale(0.9346 1)" font-size="9.95" text-anchor="middle" font-weight="normal" fill="#1a1a1a" stroke="#1a1a1a" stroke-width="0.27">Time</text>
<text transform="translate(279.90 298.00) rotate(-90) scale(0.9346 1)" font-size="9.95" text-anchor="middle" font-weight="normal" fill="#1a1a1a" stroke="#1a1a1a" stroke-width="0.27">Liver iron (µmoles)</text>
<text transform="translate(271.00 222.00)" font-size="16.50" text-anchor="start" font-weight="bold" fill="#000" stroke="#000" stroke-width="0.27">D</text>
<polyline points="328.10,323.80 369.45,337.40 410.80,327.20 452.15,333.80 493.50,314.40" fill="none" stroke="#111" stroke-width="1.4" stroke-dasharray="1.2 1.9" stroke-linejoin="round"/>
<polyline points="328.10,280.90 369.45,287.00 410.80,258.20 452.15,241.50 493.50,236.90" fill="none" stroke="#111" stroke-width="1.4" stroke-dasharray="1.2 1.9" stroke-linejoin="round"/>
<polyline points="328.10,323.80 369.45,301.30 410.80,296.40 452.15,301.70 493.50,302.50" fill="none" stroke="#111" stroke-width="1.35" stroke-linejoin="round"/>
<polyline points="328.10,280.90 369.45,318.30 410.80,296.40 452.15,262.20 493.50,253.60" fill="none" stroke="#111" stroke-width="1.35" stroke-linejoin="round"/>
<line x1="328.10" y1="273.50" x2="328.10" y2="291.40" stroke="#6a6a6a" stroke-width="1.0" stroke-linecap="butt"/>
<line x1="325.80" y1="273.50" x2="330.40" y2="273.50" stroke="#6a6a6a" stroke-width="1.1" stroke-linecap="butt"/>
<line x1="325.80" y1="291.40" x2="330.40" y2="291.40" stroke="#6a6a6a" stroke-width="1.1" stroke-linecap="butt"/>
<line x1="369.45" y1="311.30" x2="369.45" y2="329.10" stroke="#6a6a6a" stroke-width="1.0" stroke-linecap="butt"/>
<line x1="367.15" y1="311.30" x2="371.75" y2="311.30" stroke="#6a6a6a" stroke-width="1.1" stroke-linecap="butt"/>
<line x1="367.15" y1="329.10" x2="371.75" y2="329.10" stroke="#6a6a6a" stroke-width="1.1" stroke-linecap="butt"/>
<line x1="452.15" y1="251.80" x2="452.15" y2="296.30" stroke="#6a6a6a" stroke-width="1.0" stroke-linecap="butt"/>
<line x1="449.85" y1="251.80" x2="454.45" y2="251.80" stroke="#6a6a6a" stroke-width="1.1" stroke-linecap="butt"/>
<line x1="449.85" y1="296.30" x2="454.45" y2="296.30" stroke="#6a6a6a" stroke-width="1.1" stroke-linecap="butt"/>
<line x1="493.50" y1="245.90" x2="493.50" y2="266.00" stroke="#6a6a6a" stroke-width="1.0" stroke-linecap="butt"/>
<line x1="491.20" y1="245.90" x2="495.80" y2="245.90" stroke="#6a6a6a" stroke-width="1.1" stroke-linecap="butt"/>
<line x1="491.20" y1="266.00" x2="495.80" y2="266.00" stroke="#6a6a6a" stroke-width="1.1" stroke-linecap="butt"/>
<circle cx="328.10" cy="280.90" r="2.85" fill="#000"/>
<circle cx="369.45" cy="318.30" r="2.85" fill="#000"/>
<circle cx="410.80" cy="296.40" r="2.85" fill="#000"/>
<circle cx="452.15" cy="262.20" r="2.85" fill="#000"/>
<circle cx="493.50" cy="253.60" r="2.85" fill="#000"/>
<line x1="369.45" y1="281.30" x2="369.45" y2="294.30" stroke="#6a6a6a" stroke-width="1.0" stroke-linecap="butt"/>
<line x1="367.15" y1="281.30" x2="371.75" y2="281.30" stroke="#6a6a6a" stroke-width="1.1" stroke-linecap="butt"/>
<line x1="367.15" y1="294.30" x2="371.75" y2="294.30" stroke="#6a6a6a" stroke-width="1.1" stroke-linecap="butt"/>
<line x1="452.15" y1="234.30" x2="452.15" y2="249.30" stroke="#6a6a6a" stroke-width="1.0" stroke-linecap="butt"/>
<line x1="449.85" y1="234.30" x2="454.45" y2="234.30" stroke="#6a6a6a" stroke-width="1.1" stroke-linecap="butt"/>
<line x1="449.85" y1="249.30" x2="454.45" y2="249.30" stroke="#6a6a6a" stroke-width="1.1" stroke-linecap="butt"/>
<line x1="493.50" y1="230.70" x2="493.50" y2="244.60" stroke="#6a6a6a" stroke-width="1.0" stroke-linecap="butt"/>
<line x1="491.20" y1="230.70" x2="495.80" y2="230.70" stroke="#6a6a6a" stroke-width="1.1" stroke-linecap="butt"/>
<line x1="491.20" y1="244.60" x2="495.80" y2="244.60" stroke="#6a6a6a" stroke-width="1.1" stroke-linecap="butt"/>
<circle cx="328.10" cy="280.90" r="2.85" fill="#000"/>
<circle cx="369.45" cy="287.00" r="2.85" fill="#000"/>
<circle cx="410.80" cy="258.20" r="2.85" fill="#000"/>
<circle cx="452.15" cy="241.50" r="2.85" fill="#000"/>
<circle cx="493.50" cy="236.90" r="2.85" fill="#000"/>
<line x1="452.15" y1="325.40" x2="452.15" y2="346.20" stroke="#6a6a6a" stroke-width="1.0" stroke-linecap="butt"/>
<line x1="449.85" y1="325.40" x2="454.45" y2="325.40" stroke="#6a6a6a" stroke-width="1.1" stroke-linecap="butt"/>
<line x1="449.85" y1="346.20" x2="454.45" y2="346.20" stroke="#6a6a6a" stroke-width="1.1" stroke-linecap="butt"/>
<circle cx="328.10" cy="323.80" r="2.40" fill="#fff" stroke="#000" stroke-width="1.0"/>
<circle cx="369.45" cy="337.40" r="2.40" fill="#fff" stroke="#000" stroke-width="1.0"/>
<circle cx="410.80" cy="327.20" r="2.40" fill="#fff" stroke="#000" stroke-width="1.0"/>
<circle cx="452.15" cy="333.80" r="2.40" fill="#fff" stroke="#000" stroke-width="1.0"/>
<circle cx="493.50" cy="314.40" r="2.40" fill="#fff" stroke="#000" stroke-width="1.0"/>
<line x1="328.10" y1="317.80" x2="328.10" y2="331.10" stroke="#6a6a6a" stroke-width="1.0" stroke-linecap="butt"/>
<line x1="325.80" y1="317.80" x2="330.40" y2="317.80" stroke="#6a6a6a" stroke-width="1.1" stroke-linecap="butt"/>
<line x1="325.80" y1="331.10" x2="330.40" y2="331.10" stroke="#6a6a6a" stroke-width="1.1" stroke-linecap="butt"/>
<line x1="410.80" y1="288.40" x2="410.80" y2="306.30" stroke="#6a6a6a" stroke-width="1.0" stroke-linecap="butt"/>
<line x1="408.50" y1="288.40" x2="413.10" y2="288.40" stroke="#6a6a6a" stroke-width="1.1" stroke-linecap="butt"/>
<line x1="408.50" y1="306.30" x2="413.10" y2="306.30" stroke="#6a6a6a" stroke-width="1.1" stroke-linecap="butt"/>
<line x1="452.15" y1="296.30" x2="452.15" y2="308.70" stroke="#6a6a6a" stroke-width="1.0" stroke-linecap="butt"/>
<line x1="449.85" y1="296.30" x2="454.45" y2="296.30" stroke="#6a6a6a" stroke-width="1.1" stroke-linecap="butt"/>
<line x1="449.85" y1="308.70" x2="454.45" y2="308.70" stroke="#6a6a6a" stroke-width="1.1" stroke-linecap="butt"/>
<circle cx="328.10" cy="323.80" r="2.40" fill="#fff" stroke="#000" stroke-width="1.0"/>
<circle cx="369.45" cy="301.30" r="2.40" fill="#fff" stroke="#000" stroke-width="1.0"/>
<circle cx="410.80" cy="296.40" r="2.40" fill="#fff" stroke="#000" stroke-width="1.0"/>
<circle cx="452.15" cy="301.70" r="2.40" fill="#fff" stroke="#000" stroke-width="1.0"/>
<circle cx="493.50" cy="302.50" r="2.40" fill="#fff" stroke="#000" stroke-width="1.0"/>
<line x1="315.70" y1="236.40" x2="334.30" y2="236.40" stroke="#111" stroke-width="1.35" stroke-linecap="butt"/>
<circle cx="325.00" cy="236.40" r="2.85" fill="#000"/>
<text transform="translate(339.00 239.57) scale(0.909 1)" font-size="8.80" fill="#1a1a1a" stroke="#1a1a1a" stroke-width="0.15">HKO BA</text>
<line x1="315.70" y1="245.00" x2="334.30" y2="245.00" stroke="#111" stroke-width="1.3" stroke-dasharray="1.2 1.9" stroke-linecap="butt"/>
<circle cx="325.00" cy="245.00" r="2.85" fill="#000"/>
<text transform="translate(339.00 248.17) scale(0.909 1)" font-size="8.80" fill="#1a1a1a" stroke="#1a1a1a" stroke-width="0.15">HKO Saline</text>
<line x1="315.70" y1="253.50" x2="334.30" y2="253.50" stroke="#111" stroke-width="1.35" stroke-linecap="butt"/>
<circle cx="325.00" cy="253.50" r="2.40" fill="#fff" stroke="#000" stroke-width="1.0"/>
<text transform="translate(339.00 256.67) scale(0.909 1)" font-size="8.80" fill="#1a1a1a" stroke="#1a1a1a" stroke-width="0.15">WT BA</text>
<line x1="315.70" y1="262.00" x2="334.30" y2="262.00" stroke="#111" stroke-width="1.3" stroke-dasharray="1.2 1.9" stroke-linecap="butt"/>
<circle cx="325.00" cy="262.00" r="2.40" fill="#fff" stroke="#000" stroke-width="1.0"/>
<text transform="translate(339.00 265.17) scale(0.909 1)" font-size="8.80" fill="#1a1a1a" stroke="#1a1a1a" stroke-width="0.15">WT Saline</text>
</svg>
</body></html>
